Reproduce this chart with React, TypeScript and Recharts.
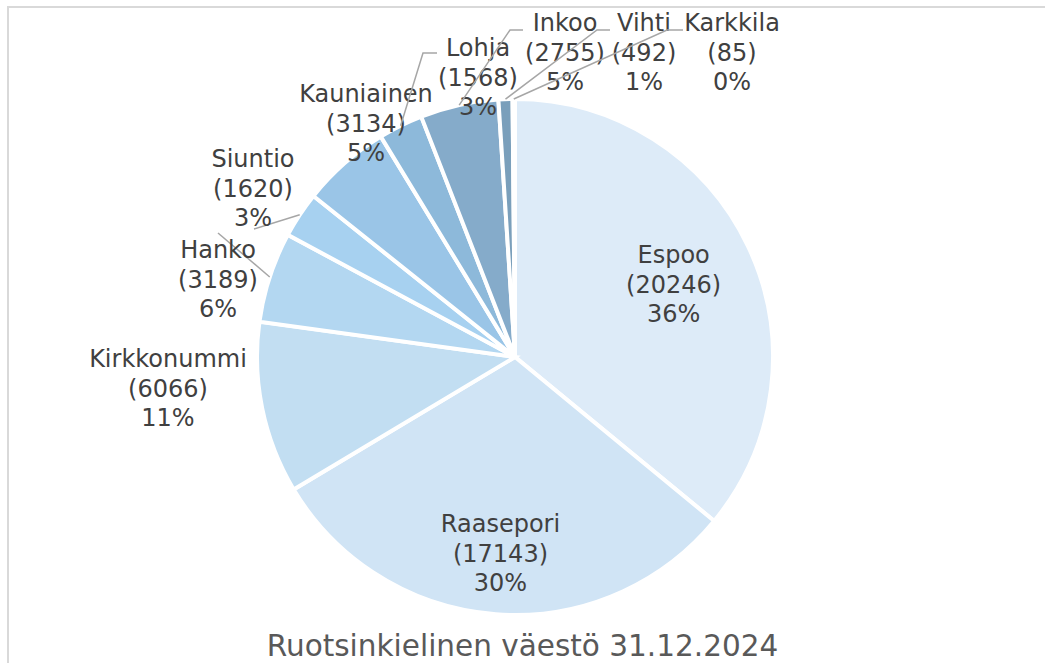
import { PieChart, Pie, Cell } from "recharts";

const kunnat = [
  "Espoo", "Raasepori", "Kirkkonummi", "Hanko", "Siuntio",
  "Kauniainen", "Lohja", "Inkoo", "Vihti", "Karkkila",
];
const asukkaat = [20246, 17143, 6066, 3189, 1620, 3134, 1568, 2755, 492, 85];
const osuudet = ["36%", "30%", "11%", "6%", "3%", "5%", "3%", "5%", "1%", "0%"];

const varit = [
  "#DDEBF8", "#D0E4F5", "#C2DEF2", "#B3D7F1", "#A7D1F0",
  "#9AC5E7", "#8DB9DA", "#85ABCA", "#7A9FBB", "#7598B2",
];

const data = kunnat.map((nimi, i) => ({ nimi, arvo: asukkaat[i] }));

// label placement: inside labels by radius ratio, outside ones by offset from pie centre
const labelSijainti: Array<{ r?: number; dx?: number; dy?: number; viiva?: number[][] }> = [
  { r: 0.68 },
  { r: 0.755 },
  { dx: -347, dy: 31 },
  { dx: -297, dy: -78, viiva: [[-297, -124]] },
  { dx: -262, dy: -169, viiva: [[-261, -128]] },
  { dx: -149, dy: -234 },
  { dx: -37, dy: -280, viiva: [[-78, -304], [-92, -304]] },
  { dx: 50, dy: -305, viiva: [[8, -327], [-5, -327]] },
  { dx: 129, dy: -305, viiva: [[95, -327], [82, -327]] },
  { dx: 217, dy: -305, viiva: [[168, -327], [152, -327]] },
];

const FONT = "'DejaVu Sans', Verdana, sans-serif";
const RIVI = 29.5;

const renderLabel = (props: any) => {
  const { cx, cy, midAngle, outerRadius, index } = props;
  const rad = Math.PI / 180;
  const s = labelSijainti[index];
  const ax = cx + outerRadius * Math.cos(-midAngle * rad);
  const ay = cy + outerRadius * Math.sin(-midAngle * rad);
  let x: number, y: number;
  if (s.r !== undefined) {
    x = cx + outerRadius * s.r * Math.cos(-midAngle * rad);
    y = cy + outerRadius * s.r * Math.sin(-midAngle * rad) + 2;
  } else {
    x = cx + (s.dx as number);
    y = cy + (s.dy as number);
  }
  let line = null;
  if (s.viiva) {
    const pts = [...s.viiva.map(([px, py]) => [cx + px, cy + py]), [ax, ay]];
    line = (
      <polyline
        points={pts.map((p) => p.join(",")).join(" ")}
        fill="none"
        stroke="#A6A6A6"
        strokeWidth={1.5}
      />
    );
  }
  const base = y + 8.5;
  return (
    <g key={`lbl-${index}`}>
      {line}
      <text
        x={x}
        y={base - RIVI}
        textAnchor="middle"
        fill="#404040"
        fontSize={24}
        fontFamily={FONT}
      >
        <tspan x={x} dy={0}>{kunnat[index]}</tspan>
        <tspan x={x} dy={RIVI}>({asukkaat[index]})</tspan>
        <tspan x={x} dy={RIVI}>{osuudet[index]}</tspan>
      </text>
    </g>
  );
};

export default function App() {
  return (
    <div style={{ position: "absolute", left: 0, top: 0, width: 1045, height: 663, background: "#fff", overflow: "hidden" }}>
      <div
        style={{
          position: "absolute", left: 7, top: 6, width: 1100, height: 700,
          borderTop: "2px solid #D9D9D9", borderLeft: "2px solid #D9D9D9",
        }}
      />
      <PieChart
        width={1045}
        height={663}
        margin={{ top: 0, right: 0, bottom: 0, left: 0 }}
        style={{ position: "absolute", left: 0, top: 0 }}
      >
        <Pie
          data={data}
          dataKey="arvo"
          nameKey="nimi"
          cx={515}
          cy={357}
          outerRadius={258}
          startAngle={90}
          endAngle={-270}
          stroke="#FFFFFF"
          strokeWidth={4}
          label={renderLabel}
          labelLine={false}
          isAnimationActive={false}
        >
          {data.map((d, i) => (
            <Cell key={d.nimi} fill={varit[i]} />
          ))}
        </Pie>
      </PieChart>
      <div
        style={{
          position: "absolute", left: 0, width: 1045, top: 628, textAlign: "center",
          fontFamily: FONT, fontSize: 29.5, color: "#595959", lineHeight: "36px", whiteSpace: "nowrap",
        }}
      >
        Ruotsinkielinen väestö 31.12.2024
      </div>
    </div>
  );
}
